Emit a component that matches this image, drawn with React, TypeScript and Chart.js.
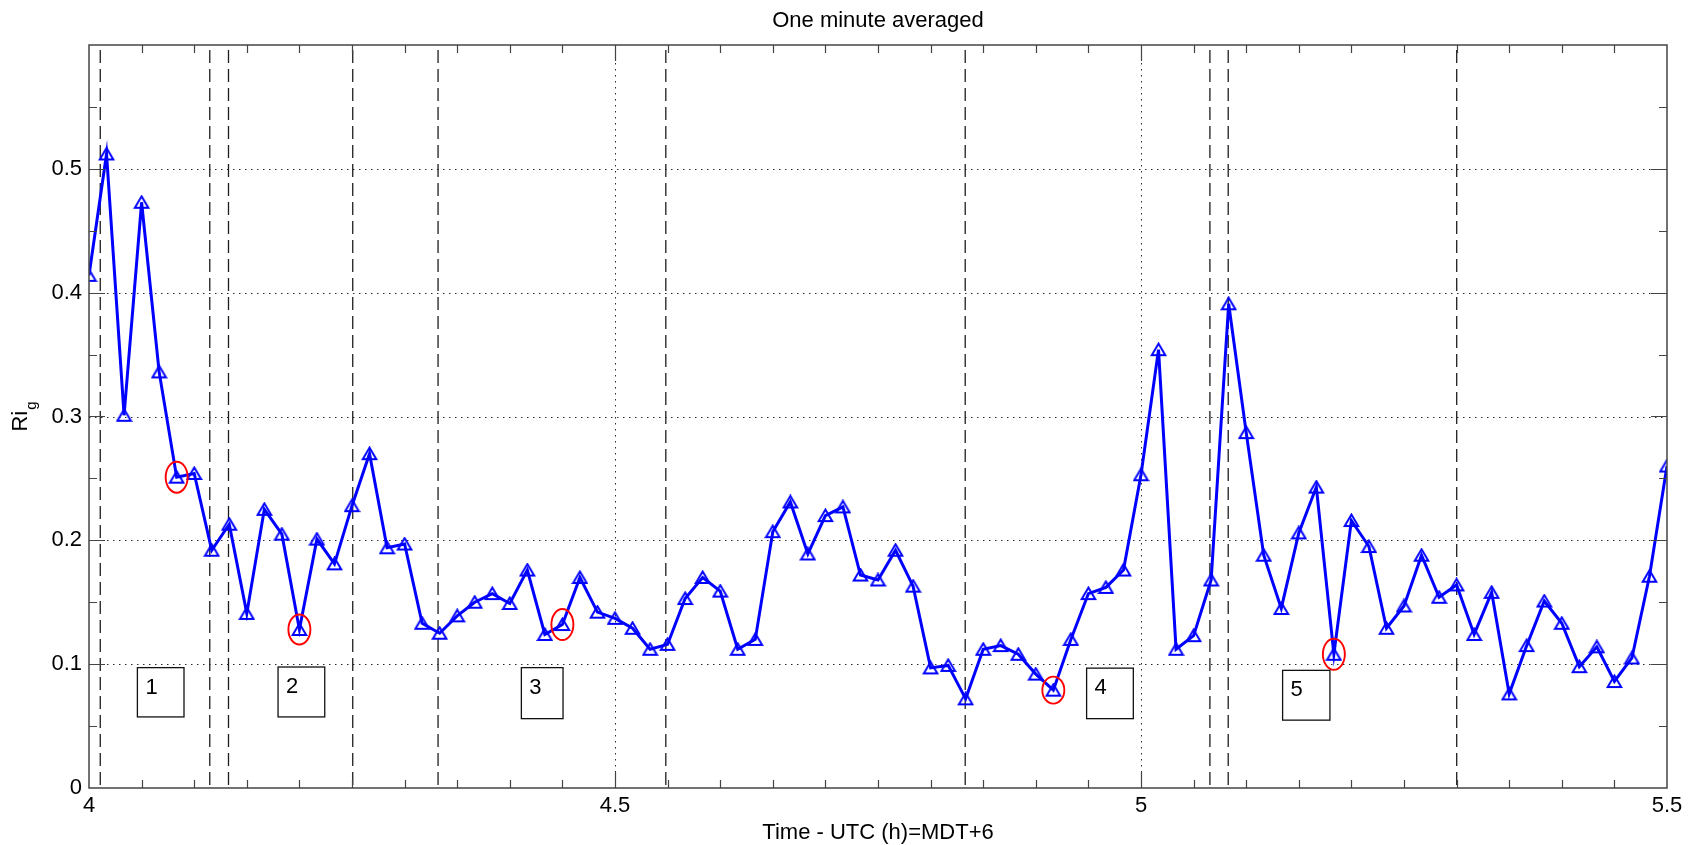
import React, { useEffect, useRef } from 'react';
import { Chart, registerables } from 'chart.js';

Chart.register(...registerables);

// One-minute averaged gradient Richardson number, 4.0 h to 5.5 h UTC
const START_HOUR = 4;
const SAMPLE_MINUTES = 1;
const RI_G = [
  0.414, 0.512, 0.301, 0.473, 0.336, 0.251, 0.254, 0.192, 0.213, 0.141,
  0.225, 0.205, 0.128, 0.201, 0.181, 0.228, 0.270, 0.194, 0.197, 0.133,
  0.125, 0.139, 0.150, 0.157, 0.149, 0.176, 0.124, 0.132, 0.170, 0.142,
  0.137, 0.129, 0.112, 0.116, 0.153, 0.170, 0.159, 0.112, 0.120, 0.207,
  0.231, 0.189, 0.220, 0.227, 0.172, 0.168, 0.192, 0.163, 0.097, 0.099,
  0.072, 0.112, 0.115, 0.108, 0.092, 0.079, 0.120, 0.157, 0.162, 0.176,
  0.253, 0.354, 0.112, 0.123, 0.168, 0.391, 0.287, 0.188, 0.145, 0.206,
  0.243, 0.108, 0.216, 0.195, 0.129, 0.147, 0.188, 0.154, 0.164, 0.124,
  0.158, 0.076, 0.115, 0.151, 0.133, 0.098, 0.114, 0.086, 0.105, 0.171,
  0.260,
];
const TIMES = RI_G.map((_, i) => START_HOUR + (i * SAMPLE_MINUTES) / 60);

// Axis ranges and tick labels
const X_MIN = 4;
const X_MAX = 5.5;
const Y_MIN = 0;
const Y_MAX = 0.6;
const X_TICK_LABELS = [4, 4.5, 5, 5.5];
const Y_TICK_LABELS = [0, 0.1, 0.2, 0.3, 0.4, 0.5];
const X_MINOR_STEP = 0.05;
const Y_MINOR_STEP = 0.05;

// Period boundaries (dashed verticals), hours UTC
const PERIOD_BOUNDS = [4.0107, 4.1148, 4.1326, 4.2507, 4.3318, 4.5483, 4.8329, 5.0655, 5.0829, 5.3001];

// Circled samples (indices into RI_G)
const CIRCLED = [5, 12, 27, 55, 71];
const CIRCLE_HALF_H = [15.5, 15, 15.5, 13.5, 15.5];

// Numbered period boxes, in data units
const PERIOD_LABELS = ['1', '2', '3', '4', '5'];
const BOX_X0 = [4.046, 4.1797, 4.411, 4.9483, 5.1346];
const BOX_X1 = [4.0903, 4.2241, 4.4506, 4.9927, 5.1796];
const BOX_Y0 = [0.0574, 0.0574, 0.056, 0.056, 0.0548];
const BOX_Y1 = [0.0972, 0.0977, 0.0972, 0.0968, 0.095];

const TITLE = 'One minute averaged';
const X_TITLE = 'Time - UTC (h)=MDT+6';
const Y_TITLE_MAIN = 'Ri';
const Y_TITLE_SUB = 'g';

const FONT = '"Liberation Sans", Arial, Helvetica, sans-serif';
const FONT_SIZE = 22;
const W = 1696;
const H = 845;

function makeTriangle(): HTMLCanvasElement {
  const c = document.createElement('canvas');
  c.width = 17;
  c.height = 15;
  const g = c.getContext('2d')!;
  g.strokeStyle = '#0000ff';
  g.lineWidth = 2;
  g.beginPath();
  g.moveTo(8.5, 1.5);
  g.lineTo(1.7, 13);
  g.lineTo(15.3, 13);
  g.closePath();
  g.stroke();
  return c;
}

const isMajor = (v: number, majors: number[]) => majors.some((m) => Math.abs(m - v) < 1e-6);

const decorations = {
  id: 'decorations',
  beforeDatasetsDraw(chart: any) {
    const { ctx, chartArea: a, scales } = chart;
    const xs = scales.x;
    const ys = scales.y;
    ctx.save();
    // dotted grid at labelled interior ticks
    ctx.strokeStyle = '#2a2a2a';
    ctx.lineWidth = 1;
    ctx.setLineDash([1.5, 4.5]);
    for (const v of X_TICK_LABELS) {
      if (v <= X_MIN || v >= X_MAX) continue;
      const px = Math.round(xs.getPixelForValue(v)) + 0.5;
      ctx.beginPath();
      ctx.moveTo(px, a.top);
      ctx.lineTo(px, a.bottom);
      ctx.stroke();
    }
    for (const v of Y_TICK_LABELS) {
      if (v <= Y_MIN || v >= Y_MAX) continue;
      const py = Math.round(ys.getPixelForValue(v)) + 0.5;
      ctx.beginPath();
      ctx.moveTo(a.left, py);
      ctx.lineTo(a.right, py);
      ctx.stroke();
    }
    // dashed period boundaries
    ctx.strokeStyle = '#1e1e1e';
    ctx.lineWidth = 1.3;
    ctx.setLineDash([13, 6]);
    for (const t of PERIOD_BOUNDS) {
      const px = xs.getPixelForValue(t);
      ctx.beginPath();
      ctx.moveTo(px, a.top + 5);
      ctx.lineTo(px, a.bottom);
      ctx.stroke();
    }
    ctx.restore();
  },
  afterDatasetsDraw(chart: any) {
    const { ctx, chartArea: a, scales } = chart;
    const xs = scales.x;
    const ys = scales.y;
    ctx.save();
    ctx.setLineDash([]);

    // red ellipses around selected samples
    ctx.strokeStyle = '#ff0000';
    ctx.lineWidth = 1.9;
    CIRCLED.forEach((idx, k) => {
      const cx = xs.getPixelForValue(TIMES[idx]);
      const cy = ys.getPixelForValue(RI_G[idx]);
      ctx.beginPath();
      ctx.ellipse(cx, cy, 11, CIRCLE_HALF_H[k], 0, 0, Math.PI * 2);
      ctx.stroke();
    });

    // numbered period boxes
    ctx.font = `${FONT_SIZE}px ${FONT}`;
    ctx.textAlign = 'left';
    ctx.textBaseline = 'alphabetic';
    PERIOD_LABELS.forEach((lab, k) => {
      const x0 = xs.getPixelForValue(BOX_X0[k]);
      const x1 = xs.getPixelForValue(BOX_X1[k]);
      const y0 = ys.getPixelForValue(BOX_Y1[k]);
      const y1 = ys.getPixelForValue(BOX_Y0[k]);
      ctx.fillStyle = '#ffffff';
      ctx.fillRect(x0, y0, x1 - x0, y1 - y0);
      ctx.strokeStyle = '#111';
      ctx.lineWidth = 1.3;
      ctx.strokeRect(x0, y0, x1 - x0, y1 - y0);
      ctx.fillStyle = '#000';
      ctx.fillText(lab, x0 + 8, y0 + 26);
    });

    // axes frame
    ctx.strokeStyle = '#444';
    ctx.lineWidth = 1.5;
    ctx.strokeRect(a.left, a.top, a.right - a.left, a.bottom - a.top);

    // inward ticks on all four sides
    ctx.lineWidth = 1.2;
    const nx = Math.round((X_MAX - X_MIN) / X_MINOR_STEP);
    for (let i = 1; i < nx; i++) {
      const v = X_MIN + i * X_MINOR_STEP;
      const len = isMajor(v, X_TICK_LABELS) ? 16 : 8;
      const px = Math.round(xs.getPixelForValue(v)) + 0.5;
      ctx.beginPath();
      ctx.moveTo(px, a.bottom);
      ctx.lineTo(px, a.bottom - len);
      ctx.moveTo(px, a.top);
      ctx.lineTo(px, a.top + len);
      ctx.stroke();
    }
    const ny = Math.round((Y_MAX - Y_MIN) / Y_MINOR_STEP);
    for (let i = 1; i < ny; i++) {
      const v = Y_MIN + i * Y_MINOR_STEP;
      const len = isMajor(v, Y_TICK_LABELS) ? 16 : 8;
      const py = Math.round(ys.getPixelForValue(v)) + 0.5;
      ctx.beginPath();
      ctx.moveTo(a.left, py);
      ctx.lineTo(a.left + len, py);
      ctx.moveTo(a.right, py);
      ctx.lineTo(a.right - len, py);
      ctx.stroke();
    }

    // titles
    const cx = (a.left + a.right) / 2;
    ctx.fillStyle = '#000';
    ctx.textAlign = 'center';
    ctx.textBaseline = 'alphabetic';
    ctx.font = `${FONT_SIZE}px ${FONT}`;
    ctx.fillText(TITLE, cx, 27);
    ctx.fillText(X_TITLE, cx, 839);

    // y title with subscript, rotated
    const cy = (a.top + a.bottom) / 2;
    ctx.font = `${FONT_SIZE}px ${FONT}`;
    const wMain = ctx.measureText(Y_TITLE_MAIN).width;
    ctx.font = `15px ${FONT}`;
    const wSub = ctx.measureText(Y_TITLE_SUB).width;
    const total = wMain + wSub + 1;
    ctx.translate(27, cy + total / 2);
    ctx.rotate(-Math.PI / 2);
    ctx.textAlign = 'left';
    ctx.font = `${FONT_SIZE}px ${FONT}`;
    ctx.fillText(Y_TITLE_MAIN, 0, 0);
    ctx.font = `15px ${FONT}`;
    ctx.fillText(Y_TITLE_SUB, wMain + 1, 9);
    ctx.restore();
  },
};

export default function App() {
  const canvasRef = useRef<HTMLCanvasElement | null>(null);

  useEffect(() => {
    const canvas = canvasRef.current;
    if (!canvas) return;
    const chart = new Chart(canvas, {
      type: 'line',
      data: {
        datasets: [
          {
            data: TIMES.map((t, i) => ({ x: t, y: RI_G[i] })),
            borderColor: '#0000ff',
            borderWidth: 3,
            pointStyle: makeTriangle(),
            pointRadius: 7,
            tension: 0,
            fill: false,
          },
        ],
      },
      options: {
        responsive: false,
        animation: false,
        devicePixelRatio: 1,
        layout: { padding: { top: 45, right: 29, left: 0, bottom: 0 } },
        plugins: {
          legend: { display: false },
          tooltip: { enabled: false },
          title: { display: false },
        },
        scales: {
          x: {
            type: 'linear',
            min: X_MIN,
            max: X_MAX,
            grid: { display: false, drawTicks: false },
            border: { display: false },
            afterBuildTicks: (s: any) => {
              s.ticks = X_TICK_LABELS.map((v) => ({ value: v }));
            },
            afterFit: (s: any) => {
              s.height = 57;
            },
            ticks: {
              autoSkip: false,
              maxRotation: 0,
              padding: 5,
              color: '#000',
              font: { family: FONT, size: FONT_SIZE },
              callback: (v: any) => String(v),
            },
          },
          y: {
            type: 'linear',
            min: Y_MIN,
            max: Y_MAX,
            grid: { display: false, drawTicks: false },
            border: { display: false },
            afterBuildTicks: (s: any) => {
              s.ticks = Y_TICK_LABELS.map((v) => ({ value: v }));
            },
            afterFit: (s: any) => {
              s.width = 89;
            },
            ticks: {
              autoSkip: false,
              padding: 7,
              color: '#000',
              font: { family: FONT, size: FONT_SIZE },
              callback: (v: any) => String(v),
            },
          },
        },
      },
      plugins: [decorations],
    });
    return () => chart.destroy();
  }, []);

  return (
    <div style={{ position: 'absolute', left: 0, top: 0, width: W, height: H, background: '#fff' }}>
      <canvas ref={canvasRef} width={W} height={H} style={{ display: 'block' }} />
    </div>
  );
}
